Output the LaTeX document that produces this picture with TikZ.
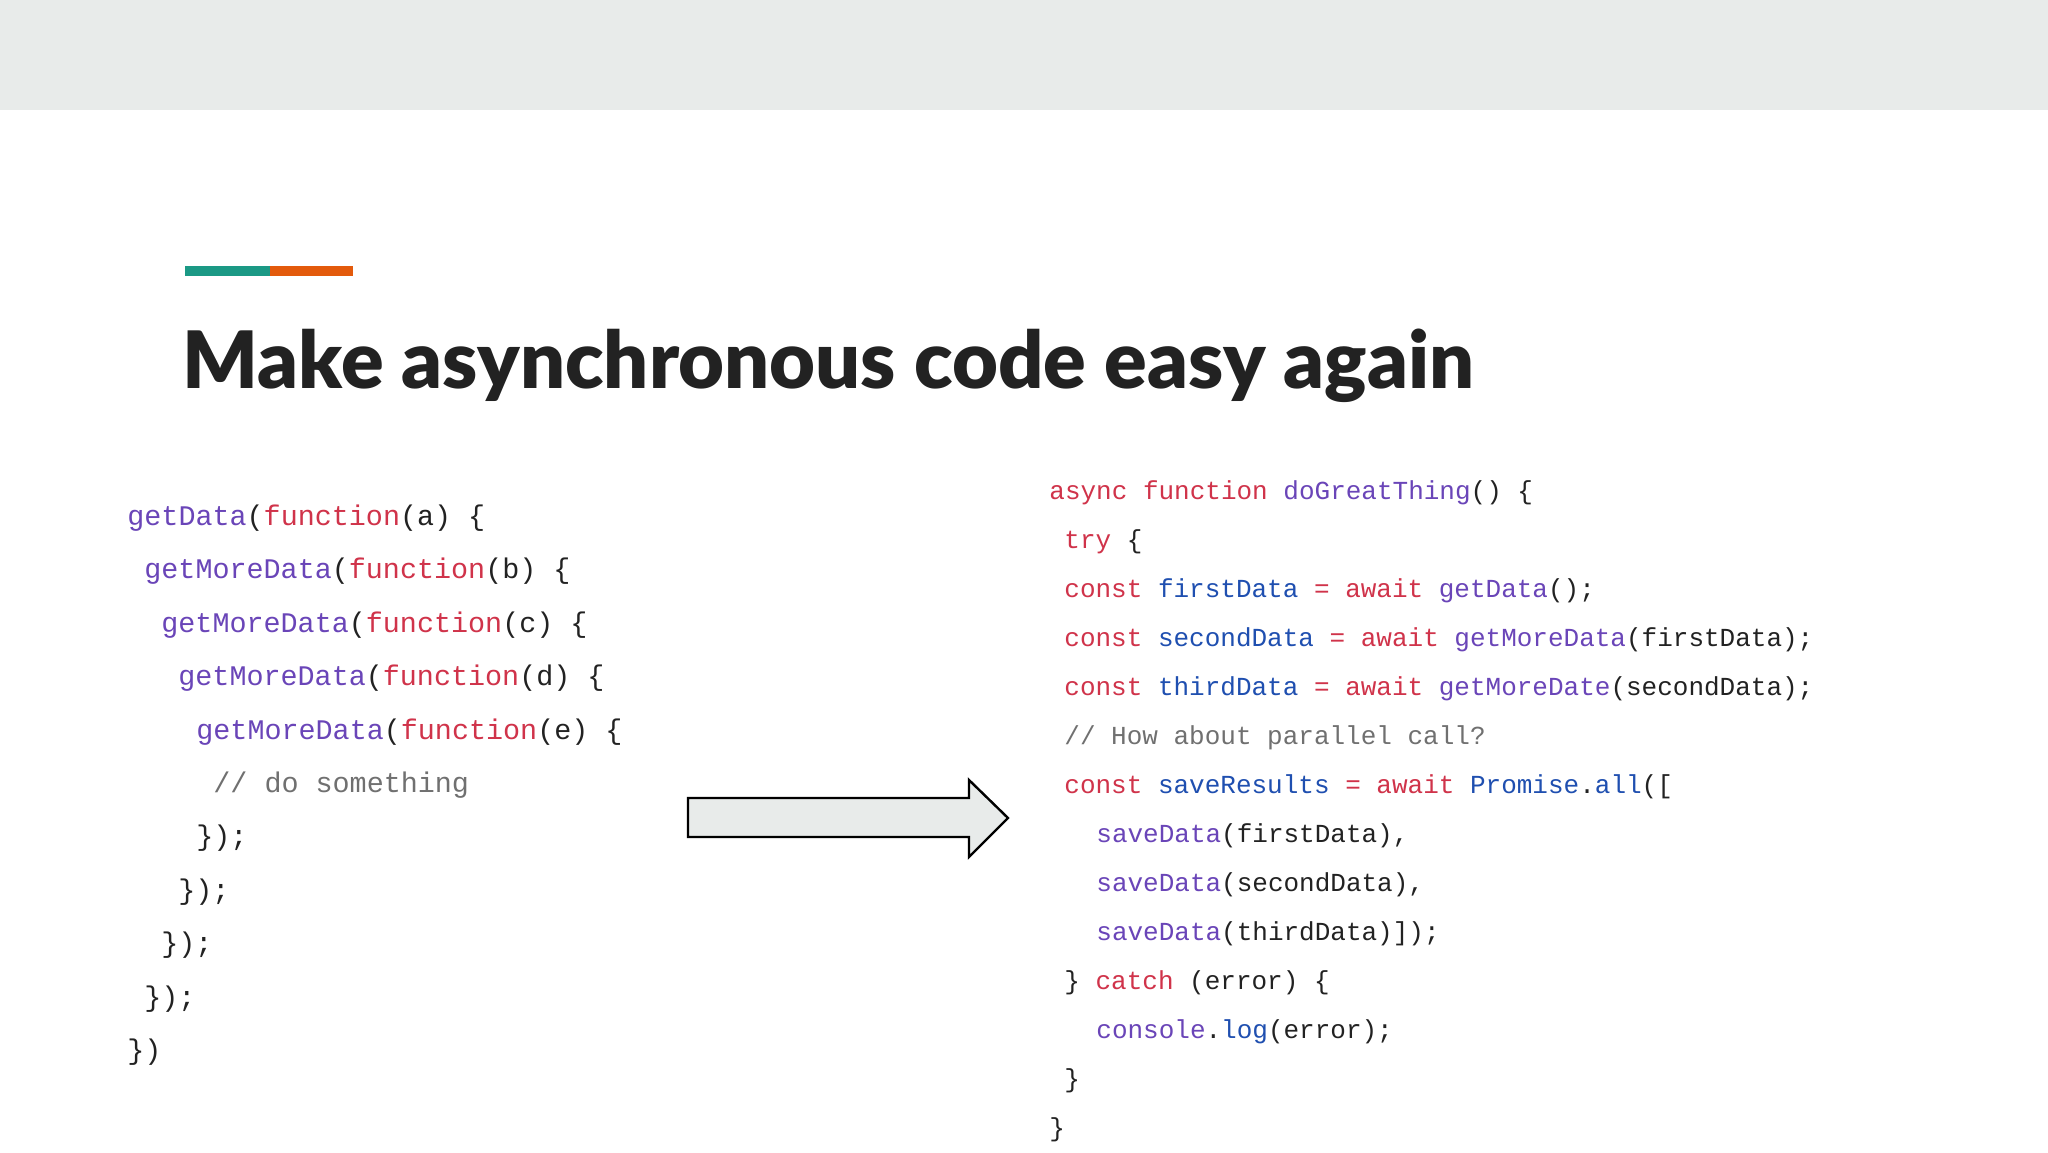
\documentclass[tikz,border=0pt]{standalone}
\usepackage{fontspec}
\setmainfont{Lato}
\setmonofont{Liberation Mono}
\newfontfamily\titlefont{Lato Black}
\definecolor{kwc}{HTML}{D0334A}
\definecolor{fnc}{HTML}{6A45B8}
\definecolor{vrc}{HTML}{1F4FB0}
\definecolor{cmc}{HTML}{707070}
\definecolor{txc}{HTML}{222222}
\definecolor{band}{HTML}{E8EBEA}
\definecolor{teal}{HTML}{1B9985}
\definecolor{orng}{HTML}{E35A0C}
\newcommand{\kw}[1]{\textcolor{kwc}{#1}}
\newcommand{\fn}[1]{\textcolor{fnc}{#1}}
\newcommand{\vr}[1]{\textcolor{vrc}{#1}}
\newcommand{\cm}[1]{\textcolor{cmc}{#1}}
\begin{document}
\begin{tikzpicture}[x=0.5pt,y=-0.5pt,
  lc/.style={anchor=base west,inner sep=0,text=txc,font=\fontsize{14.2}{16}\ttfamily},
  rc/.style={anchor=base west,inner sep=0,text=txc,font=\fontsize{13}{15}\ttfamily}]
\useasboundingbox (0,0) rectangle (2048,1152);
\fill[white] (0,0) rectangle (2048,1152);
\fill[band] (0,0) rectangle (2048,110);
\fill[teal] (185,266) rectangle (270,276);
\fill[orng] (270,266) rectangle (353,276);
\node[anchor=base west,inner sep=0,text=txc,font=\fontsize{39.6}{42}\titlefont] (title) at (182,388) {Make asynchronous code easy again};
% left code
\node[lc] (l1) at (127,525) {\fn{getData}(\kw{function}(a) \{};
\node[lc] (l2) at (144,578) {\fn{getMoreData}(\kw{function}(b) \{};
\node[lc] (l3) at (161,632) {\fn{getMoreData}(\kw{function}(c) \{};
\node[lc] (l4) at (178,685) {\fn{getMoreData}(\kw{function}(d) \{};
\node[lc] (l5) at (196,739) {\fn{getMoreData}(\kw{function}(e) \{};
\node[lc] (l6) at (213,792) {\cm{// do something}};
\node[lc] (l7) at (196,845) {\});};
\node[lc] (l8) at (178,899) {\});};
\node[lc] (l9) at (161,952) {\});};
\node[lc] (l10) at (144,1006) {\});};
\node[lc] (l11) at (127,1059) {\})};
% arrow
\draw[fill=band,line width=1.2pt,line join=miter] (688,798) -- (969,798) -- (969,780) -- (1008,818) -- (969,857) -- (969,837) -- (688,837) -- cycle;
% right code
\node[rc] (r1) at (1049,499) {\kw{async} \kw{function} \fn{doGreatThing}() \{};
\node[rc] (r2) at (1064,548) {\kw{try} \{};
\node[rc] (r3) at (1064,597) {\kw{const} \vr{firstData} \kw{=} \kw{await} \fn{getData}();};
\node[rc] (r4) at (1064,646) {\kw{const} \vr{secondData} \kw{=} \kw{await} \fn{getMoreData}(firstData);};
\node[rc] (r5) at (1064,695) {\kw{const} \vr{thirdData} \kw{=} \kw{await} \fn{getMoreDate}(secondData);};
\node[rc] (r6) at (1064,744) {\cm{// How about parallel call?}};
\node[rc] (r7) at (1064,793) {\kw{const} \vr{saveResults} \kw{=} \kw{await} \vr{Promise}.\vr{all}([};
\node[rc] (r8) at (1096,842) {\fn{saveData}(firstData),};
\node[rc] (r9) at (1096,891) {\fn{saveData}(secondData),};
\node[rc] (r10) at (1096,940) {\fn{saveData}(thirdData)]);};
\node[rc] (r11) at (1064,989) {\} \kw{catch} (error) \{};
\node[rc] (r12) at (1096,1038) {\fn{console}.\vr{log}(error);};
\node[rc] (r13) at (1064,1087) {\}};
\node[rc] (r14) at (1049,1136) {\}};
\end{tikzpicture}
\end{document}
